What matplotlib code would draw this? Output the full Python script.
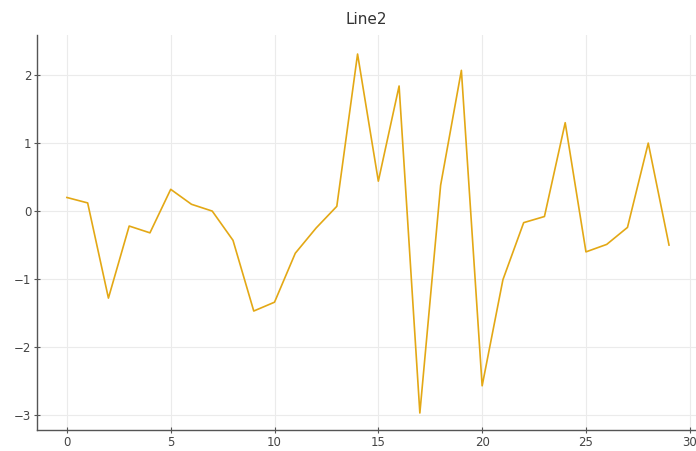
import numpy as np
import matplotlib
matplotlib.use("Agg")
from matplotlib import pyplot as plt


# Values
x_vals = list(range(30))
y_vals = [0.20, 0.12, -1.28, -0.22, -0.32, 0.32, 0.10, 0.00, -0.43, -1.47,
          -1.34, -0.62, -0.25, 0.07, 2.31, 0.44, 1.84, -2.97, 0.38, 2.07,
          -2.57, -1.01, -0.17, -0.08, 1.30, -0.60, -0.49, -0.24, 1.00, -0.50]
x_ticks = [0, 5, 10, 15, 20, 25, 30]
y_ticks = [-3, -2, -1, 0, 1, 2]
title = "Line2"


def main():
	fig = plt.figure(figsize=(6.96, 4.51), dpi=100)
	ax = fig.add_axes([37/696, 1 - 430/451, 1 - 37/696, (430 - 35)/451])

	ax.plot(x_vals, y_vals, color="#e3a815", linewidth=1.2)

	ax.set_xlim(-1.44, 30.3)
	ax.set_ylim(-3.22, 2.59)
	ax.set_xticks(x_ticks)
	ax.set_yticks(y_ticks)

	ax.grid(True, color="#ebebeb", linewidth=0.8)
	ax.set_axisbelow(True)
	for side in ["top", "right"]:
		ax.spines[side].set_visible(False)
	for side in ["left", "bottom"]:
		ax.spines[side].set_color("#555555")
		ax.spines[side].set_linewidth(1.0)
	ax.tick_params(direction="inout", length=4, color="#555555", labelcolor="#444444", labelsize=8.5, pad=2)

	ax.set_title(title, fontsize=11, color="#333333", pad=8)

	fig.savefig("out.png", dpi=100)


if __name__ == "__main__":
	main()
